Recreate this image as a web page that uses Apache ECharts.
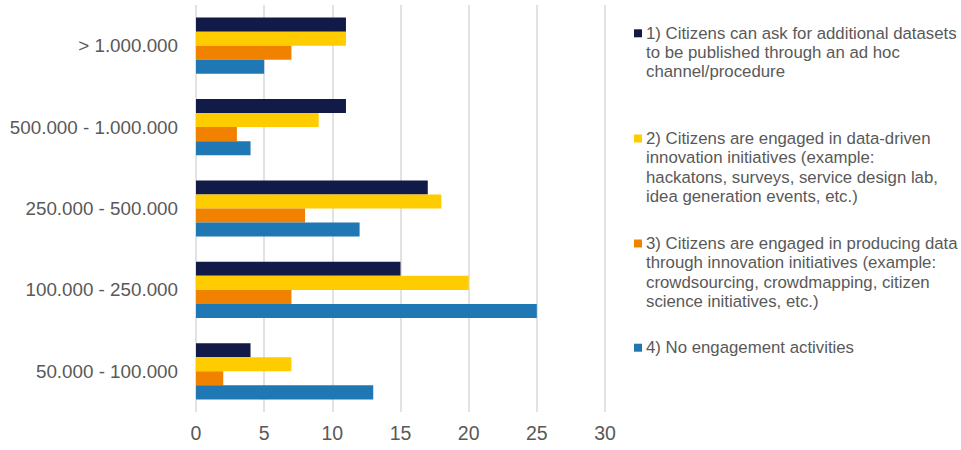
<!DOCTYPE html>
<html>
<head>
<meta charset="utf-8">
<script src="https://cdn.jsdelivr.net/npm/echarts@6/dist/echarts.min.js"></script>
<style>html,body{margin:0;padding:0;background:#fff;}#c{width:961px;height:450px;}</style>
</head>
<body>
<div id="c"></div>
<script>
const categories = ["50.000 - 100.000", "100.000 - 250.000", "250.000 - 500.000", "500.000 - 1.000.000", "> 1.000.000"];
const seriesNames = [
  "1) Citizens can ask for additional datasets\nto be published through an ad hoc\nchannel/procedure",
  "2) Citizens are engaged in data-driven\ninnovation initiatives (example:\nhackatons, surveys, service design lab,\nidea generation events, etc.)",
  "3) Citizens are engaged in producing data\nthrough innovation initiatives (example:\ncrowdsourcing, crowdmapping, citizen\nscience initiatives, etc.)",
  "4) No engagement activities"
];
const s1 = [4, 15, 17, 11, 11];
const s2 = [7, 20, 18, 9, 11];
const s3 = [2, 7, 8, 3, 7];
const s4 = [13, 25, 12, 4, 5];
const xTicks = [0, 5, 10, 15, 20, 25, 30];
const colors = ["#121a48", "#ffcc00", "#f08200", "#1f78b4"];

const FONT = "'Liberation Sans', Arial, sans-serif";
const LH = 19.3;
const legendFirstLineY = [33.3, 138.5, 243.5, 347.7];
const values = [s1, s2, s3, s4];

const legendGraphics = [];
seriesNames.forEach((name, i) => {
  const yc = legendFirstLineY[i];
  legendGraphics.push({
    type: "rect",
    left: 634, top: yc - 4,
    shape: { width: 8, height: 8 },
    style: { fill: colors[i] },
    silent: true
  });
  legendGraphics.push({
    type: "text",
    x: 646, y: yc - LH / 2,
    style: {
      text: name,
      fill: "#595959",
      font: "16.8px " + FONT,
      lineHeight: LH,
      verticalAlign: "top",
      align: "left"
    },
    silent: true
  });
});

const chart = echarts.init(document.getElementById("c"), null, { renderer: "svg" });
chart.setOption({
  animation: false,
  backgroundColor: "#ffffff",
  graphic: legendGraphics,
  grid: { left: 196, right: 356, top: 5, bottom: 38, containLabel: false, outerBoundsMode: "none" },
  xAxis: {
    type: "value",
    min: xTicks[0],
    max: xTicks[xTicks.length - 1],
    interval: 5,
    axisLine: { show: false },
    axisTick: { show: false },
    axisLabel: { color: "#595959", fontSize: 19.5, fontFamily: FONT, margin: 11 },
    splitLine: { show: true, lineStyle: { color: "#d9d9d9", width: 1.5 } }
  },
  yAxis: {
    type: "category",
    data: categories,
    axisLine: { show: false },
    axisTick: { show: false },
    axisLabel: { color: "#595959", fontSize: 18.8, fontFamily: FONT, margin: 18 },
    splitLine: { show: false }
  },
  series: seriesNames.map((name, i) => ({
    name: name,
    type: "bar",
    data: values[i],
    barGap: "0%",
    barCategoryGap: "31%",
    itemStyle: { color: colors[i] }
  }))
});
</script>
</body>
</html>
